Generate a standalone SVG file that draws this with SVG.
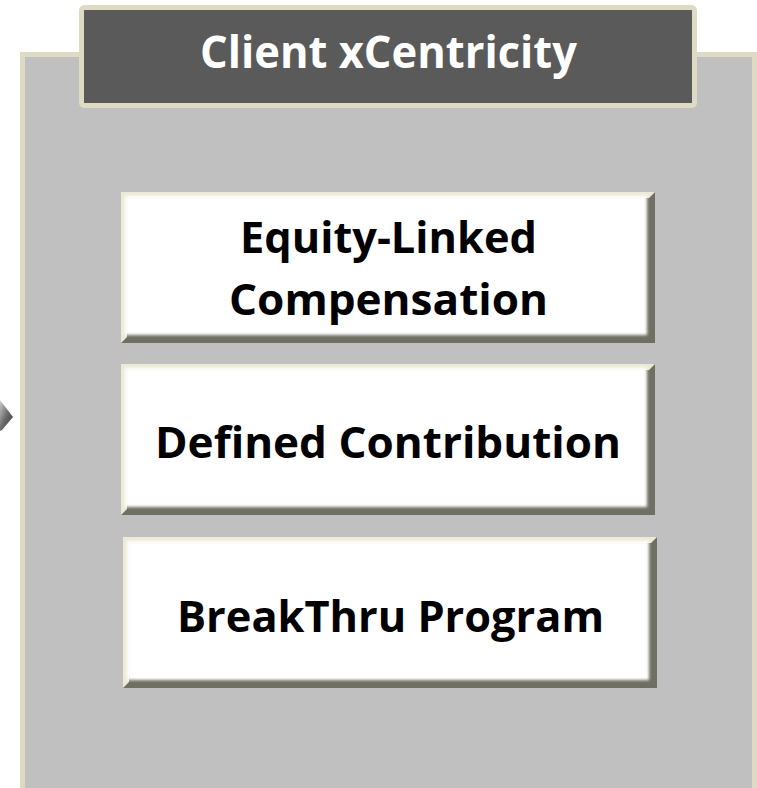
<svg xmlns="http://www.w3.org/2000/svg" width="757" height="788" viewBox="0 0 757 788">
  <defs>
    <linearGradient id="arrowGrad" x1="0" y1="0" x2="1" y2="1">
      <stop offset="0" stop-color="#cfcfcf"/>
      <stop offset="0.5" stop-color="#6a6a6a"/>
      <stop offset="1" stop-color="#3a3a3a"/>
    </linearGradient>
    <filter id="soft" x="-5%" y="-5%" width="110%" height="110%">
      <feGaussianBlur stdDeviation="1.6"/>
    </filter>
    <style>
      .panel { fill: #c0c0c0; stroke: #dedac4; stroke-width: 5; }
      .title { fill: #5a5a5a; stroke: #dedac4; stroke-width: 5; }
      .titletext { font-family: "Open Sans", "Liberation Sans", sans-serif; font-weight: bold; font-size: 44px; fill: #ffffff; }
      .boxtext { font-family: "Open Sans", "Liberation Sans", sans-serif; font-weight: bold; font-size: 43px; fill: #000000; }
      .bevel-dark { fill: #6f6f63; }
      .bevel-light { fill: #ecead6; }
      .face { fill: #ffffff; filter: url(#soft); }
    </style>
  </defs>

  <g id="panel">
    <rect class="panel" x="22.5" y="54.5" width="732" height="745"/>
  </g>

  <g id="title">
    <rect class="title" x="81.5" y="7.5" width="613" height="98" rx="3"/>
    <text class="titletext" x="388.5" y="68" text-anchor="middle" textLength="377" lengthAdjust="spacingAndGlyphs">Client xCentricity</text>
  </g>

  <g id="connectors">
    <polygon points="0,400 13,417 2,430 0,431" fill="url(#arrowGrad)"/>
  </g>

  <g id="box-equity">
    <rect class="bevel-dark" x="121" y="192" width="534" height="151"/>
    <polygon class="bevel-light" points="121,192 655,192 649,198 127,198 127,337 121,343"/>
    <rect class="face" x="125" y="196" width="522" height="139"/>
    <text class="boxtext" x="388.5" y="253" text-anchor="middle" textLength="297" lengthAdjust="spacingAndGlyphs">Equity-Linked</text>
    <text class="boxtext" x="388.5" y="315" text-anchor="middle" textLength="319" lengthAdjust="spacingAndGlyphs">Compensation</text>
  </g>

  <g id="box-defined">
    <rect class="bevel-dark" x="121" y="364" width="534" height="151"/>
    <polygon class="bevel-light" points="121,364 655,364 649,370 127,370 127,509 121,515"/>
    <rect class="face" x="125" y="368" width="522" height="139"/>
    <text class="boxtext" x="388" y="458" text-anchor="middle" textLength="466" lengthAdjust="spacingAndGlyphs">Defined Contribution</text>
  </g>

  <g id="box-breakthru">
    <rect class="bevel-dark" x="123" y="537" width="534" height="151"/>
    <polygon class="bevel-light" points="123,537 657,537 651,543 129,543 129,682 123,688"/>
    <rect class="face" x="127" y="541" width="522" height="139"/>
    <text class="boxtext" x="390.5" y="632" text-anchor="middle" textLength="427" lengthAdjust="spacingAndGlyphs">BreakThru Program</text>
  </g>
</svg>
